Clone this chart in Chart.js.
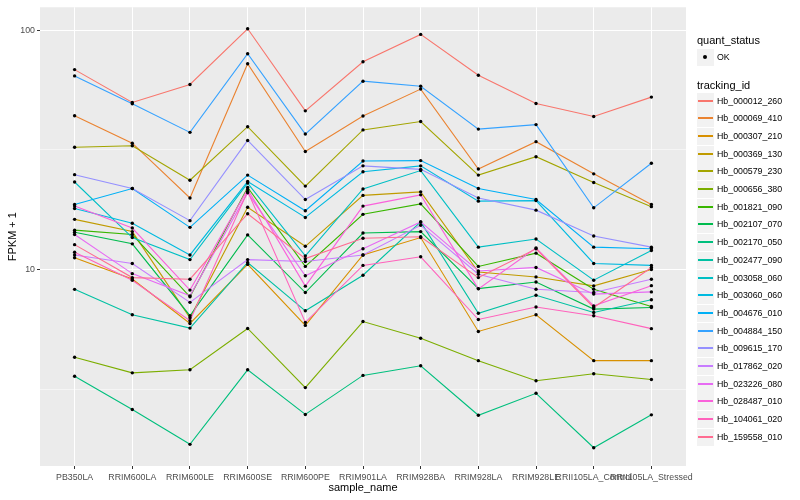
<!DOCTYPE html>
<html>
<head>
<meta charset="utf-8">
<script src="https://cdn.jsdelivr.net/npm/chart.js@4.4.1/dist/chart.umd.min.js"></script>
<style>
  body { margin: 0; background: #fff; }
  #wrap { position: relative; width: 800px; height: 500px; font-family: "Liberation Sans", Arial, sans-serif; }
  #legend { position: absolute; left: 697px; top: 0; }
  .ttl { position: absolute; left: 0; font-size: 11px; line-height: 14px; white-space: nowrap; color: #000; }
  .key { position: absolute; left: 0; width: 17px; height: 17px; background: #F2F2F2; }
  .ln { position: absolute; left: 1px; right: 1px; top: 7px; height: 2px; }
  .dot { position: absolute; left: 6px; top: 6px; width: 4px; height: 4px; border-radius: 50%; background: #000; }
  .lab { position: absolute; left: 20px; height: 17px; line-height: 17px; font-size: 8.8px; white-space: nowrap; color: #000; }
</style>
</head>
<body>
<div id="wrap">
  <canvas id="chart" width="800" height="500"></canvas>
  <div id="legend"></div>
</div>
<script>
// sample names on the x axis
const samples = ['PB350LA', 'RRIM600LA', 'RRIM600LE', 'RRIM600SE', 'RRIM600PE', 'RRIM901LA',
  'RRIM928BA', 'RRIM928LA', 'RRIM928LE', 'RRII105LA_Control', 'RRII105LA_Stressed'];

const trackingIds = ['Hb_000012_260', 'Hb_000069_410', 'Hb_000307_210', 'Hb_000369_130', 'Hb_000579_230',
  'Hb_000656_380', 'Hb_001821_090', 'Hb_002107_070', 'Hb_002170_050', 'Hb_002477_090',
  'Hb_003058_060', 'Hb_003060_060', 'Hb_004676_010', 'Hb_004884_150', 'Hb_009615_170',
  'Hb_017862_020', 'Hb_023226_080', 'Hb_028487_010', 'Hb_104061_020', 'Hb_159558_010'];

const lineColors = ['#F8766D', '#EA8331', '#D89000', '#C09B00', '#A3A500', '#7CAE00', '#39B600',
  '#00BB4E', '#00BF7D', '#00C1A3', '#00BFC4', '#00BAE0', '#00B0F6', '#35A2FF', '#9590FF',
  '#C77CFF', '#E76BF3', '#FA62DB', '#FF62BC', '#FF6C91'];

// FPKM + 1, one array per tracking id
const hb_000012_260 = [68.4, 49.9, 59.3, 101.3, 46.0, 73.8, 96.0, 64.8, 49.4, 43.6, 52.5];
const hb_000069_410 = [43.9, 33.7, 19.9, 72.4, 31.1, 43.8, 56.7, 26.3, 34.2, 25.1, 18.7];
const hb_000307_210 = [11.2, 9.13, 5.95, 10.5, 5.84, 11.5, 13.6, 5.51, 6.47, 4.16, 4.16];
const hb_000369_130 = [16.2, 14.4, 6.28, 18.2, 12.5, 20.4, 21.1, 9.76, 9.31, 8.54, 10.0];
const hb_000579_230 = [32.4, 32.9, 23.6, 39.5, 22.3, 38.3, 41.5, 24.8, 29.6, 23.1, 18.3];
const hb_000656_380 = [4.30, 3.70, 3.81, 5.67, 3.21, 6.06, 5.16, 4.16, 3.43, 3.67, 3.47];
const hb_001821_090 = [14.6, 14.0, 7.69, 22.0, 10.3, 17.0, 18.8, 10.3, 11.7, 8.27, 7.00];
const hb_002107_070 = [14.3, 12.8, 6.41, 13.95, 8.01, 14.2, 14.4, 8.32, 8.87, 6.83, 6.94];
const hb_002170_050 = [3.58, 2.60, 1.86, 3.81, 2.48, 3.61, 3.96, 2.46, 3.04, 1.80, 2.47];
const hb_002477_090 = [8.26, 6.47, 5.69, 10.7, 6.72, 9.46, 15.8, 6.56, 7.80, 6.61, 7.47];
const hb_003058_060 = [23.2, 13.6, 11.0, 22.96, 11.4, 21.7, 25.9, 12.4, 13.4, 9.02, 12.0];
const hb_003060_060 = [17.97, 15.6, 11.5, 23.3, 16.5, 25.6, 27.1, 19.3, 19.4, 10.6, 10.4];
const hb_004676_010 = [18.7, 21.8, 15.0, 24.8, 17.6, 28.4, 28.5, 21.8, 19.6, 12.4, 12.2];
const hb_004884_150 = [64.4, 49.2, 37.4, 79.7, 36.8, 61.2, 58.3, 38.6, 40.3, 18.1, 27.8];
const hb_009615_170 = [24.9, 21.8, 16.0, 34.6, 19.6, 27.1, 26.2, 19.9, 17.7, 13.8, 12.4];
const hb_017862_020 = [11.5, 10.6, 7.29, 11.0, 10.8, 11.5, 15.3, 9.55, 8.27, 8.01, 9.11];
const hb_023226_080 = [14.0, 9.61, 7.76, 20.9, 9.42, 12.2, 15.8, 9.86, 10.2, 7.89, 8.06];
const hb_028487_010 = [18.4, 14.9, 8.20, 21.6, 8.52, 18.4, 20.5, 8.30, 12.3, 7.05, 8.56];
const hb_104061_020 = [11.8, 9.02, 6.11, 21.2, 6.01, 10.4, 11.3, 6.18, 6.97, 6.41, 5.66];
const hb_159558_010 = [12.7, 9.25, 9.11, 17.1, 11.1, 13.5, 13.7, 9.25, 12.2, 6.94, 10.2];

const series = [hb_000012_260, hb_000069_410, hb_000307_210, hb_000369_130, hb_000579_230,
  hb_000656_380, hb_001821_090, hb_002107_070, hb_002170_050, hb_002477_090,
  hb_003058_060, hb_003060_060, hb_004676_010, hb_004884_150, hb_009615_170,
  hb_017862_020, hb_023226_080, hb_028487_010, hb_104061_020, hb_159558_010];

// y breaks (log10 scale): labelled majors and unlabelled minors
const yMajorTicks = [10, 100];
const yMinorTicks = [3.1623, 31.623];

const isMajor = v => yMajorTicks.includes(v);

// lines first, then all points on top (like geom_line + geom_point)
// later groups drawn above earlier ones, as ggplot does
const datasets = [];
series.forEach((vals, i) => {
  datasets.push({
    label: trackingIds[i],
    data: vals.map((v, j) => ({ x: j, y: v })),
    borderColor: lineColors[i],
    borderWidth: 1.1,
    pointRadius: 0,
    tension: 0,
    fill: false,
    order: 100 - i
  });
});
series.forEach((vals, i) => {
  datasets.push({
    label: trackingIds[i] + ' OK',
    data: vals.map((v, j) => ({ x: j, y: v })),
    showLine: false,
    pointRadius: 1.7,
    pointBackgroundColor: '#000',
    pointBorderWidth: 0,
    order: 1
  });
});

const panelBg = {
  id: 'panelBg',
  beforeDraw(chart) {
    const { ctx, chartArea: a } = chart;
    ctx.save();
    ctx.fillStyle = '#EBEBEB';
    ctx.fillRect(a.left, a.top, a.right - a.left, a.bottom - a.top);
    ctx.restore();
  }
};

Chart.defaults.font.family = '"Liberation Sans", Arial, sans-serif';

new Chart(document.getElementById('chart'), {
  type: 'line',
  data: { datasets: datasets },
  plugins: [panelBg],
  options: {
    responsive: false,
    animation: false,
    layout: { padding: { top: 5, right: 114, left: 0, bottom: 0 } },
    plugins: { legend: { display: false }, tooltip: { enabled: false } },
    scales: {
      x: {
        type: 'linear',
        min: -0.6,
        max: 10.6,
        afterBuildTicks: axis => { axis.ticks = samples.map((s, i) => ({ value: i })); },
        afterFit: s => { s.height = 34; },
        ticks: {
          callback: v => samples[v],
          autoSkip: false,
          maxRotation: 0,
          minRotation: 0,
          color: '#4D4D4D',
          font: { size: 8.8 },
          padding: 3
        },
        grid: { color: '#FFFFFF', lineWidth: 1, tickColor: '#333333', tickLength: 3 },
        border: { display: false },
        title: {
          display: true,
          text: 'sample_name',
          color: '#000',
          font: { size: 11 },
          padding: { top: 0, bottom: 5 }
        }
      },
      y: {
        type: 'logarithmic',
        min: 1.51,
        max: 124.6,
        afterBuildTicks: axis => {
          axis.ticks = yMinorTicks.concat(yMajorTicks).sort((a, b) => a - b).map(v => ({ value: v }));
        },
        afterFit: s => { s.width = 40; },
        ticks: {
          callback: v => (isMajor(v) ? String(v) : ''),
          color: '#4D4D4D',
          font: { size: 8.8 },
          padding: 2
        },
        grid: {
          color: '#FFFFFF',
          lineWidth: ctx => (ctx.tick && isMajor(ctx.tick.value) ? 1 : 0.5),
          tickColor: ctx => (ctx.tick && isMajor(ctx.tick.value) ? '#333333' : 'rgba(0,0,0,0)'),
          tickLength: 3
        },
        border: { display: false },
        title: {
          display: true,
          text: 'FPKM + 1',
          color: '#000',
          font: { size: 11 },
          padding: { top: 6, bottom: 0 }
        }
      }
    }
  }
});

// ggplot-style legend
const legend = document.getElementById('legend');
let html = '<div class="ttl" style="top:33px">quant_status</div>';
html += '<div class="key" style="top:49px"><span class="dot"></span></div>';
html += '<div class="lab" style="top:49px">OK</div>';
html += '<div class="ttl" style="top:78px">tracking_id</div>';
trackingIds.forEach((id, i) => {
  const top = Math.round(92.5 + i * 17.7);
  html += '<div class="key" style="top:' + top + 'px"><span class="ln" style="background:' + lineColors[i] + '"></span></div>';
  html += '<div class="lab" style="top:' + top + 'px">' + id + '</div>';
});
legend.innerHTML = html;
</script>
</body>
</html>
